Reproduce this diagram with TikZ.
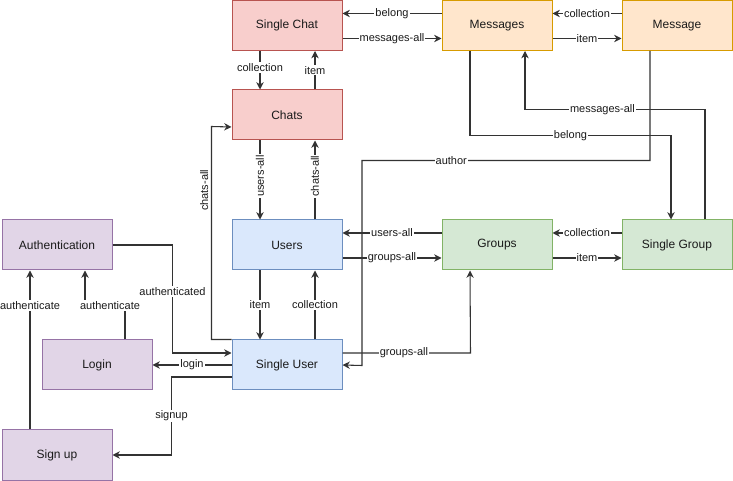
\documentclass[tikz,border=0pt]{standalone}
\usepackage{fontspec}
\setmainfont{Liberation Sans}
\usepackage{xcolor}
\usepackage{tikz}
\usetikzlibrary{positioning, calc, arrows.meta}

\definecolor{chatfill}{HTML}{F8CECC}
\definecolor{chatline}{HTML}{B85450}
\definecolor{msgfill}{HTML}{FFE6CC}
\definecolor{msgline}{HTML}{D79B00}
\definecolor{userfill}{HTML}{DAE8FC}
\definecolor{userline}{HTML}{6C8EBF}
\definecolor{groupfill}{HTML}{D5E8D4}
\definecolor{groupline}{HTML}{82B366}
\definecolor{authfill}{HTML}{E1D5E7}
\definecolor{authline}{HTML}{9673A6}
\definecolor{txt}{HTML}{1A1A1A}

\tikzset{
    box/.style={draw, line width=0.75pt, minimum width=82.5pt, minimum height=37.5pt, inner sep=0pt, font=\fontsize{9}{11}\selectfont, text=txt},
    chatbox/.style={box, fill=chatfill, draw=chatline},
    msgbox/.style={box, fill=msgfill, draw=msgline},
    userbox/.style={box, fill=userfill, draw=userline},
    groupbox/.style={box, fill=groupfill, draw=groupline},
    authbox/.style={box, fill=authfill, draw=authline},
    link/.style={->, draw=black!80, line width=0.8pt},
    lbl/.style={fill=white, inner sep=0.8pt, font=\fontsize{8.25}{10}\selectfont, text=txt},
    sidelbl/.style={inner sep=2pt, font=\fontsize{8.25}{10}\selectfont, text=txt}
}

\begin{document}
\begin{tikzpicture}[x=0.75pt, y=-0.75pt, >={Stealth[length=5.5pt, width=5.5pt]}]
        \useasboundingbox (0,0) rectangle (733,481);

        \node[chatbox] (schat) at (287,25.5) {Single Chat};
        \node[chatbox] (chats) at (287,115) {Chats};
        \node[msgbox] (msgs) at (497,25.5) {Messages};
        \node[msgbox] (msg) at (677,25.5) {Message};
        \node[userbox] (users) at (287,245) {Users};
        \node[userbox] (suser) at (287,365) {Single User};
        \node[groupbox] (groups) at (497,245) {Groups};
        \node[groupbox] (sgroup) at (677,245) {Single Group};
        \node[authbox] (auth) at (57,245) {Authentication};
        \node[authbox] (login) at (97,365) {Login};
        \node[authbox] (signup) at (57,455) {Sign up};

        \draw[link] ($(msgs.west)+(0,-12)$) -- node[lbl] {belong} ($(schat.east)+(0,-12)$);
        \draw[link] ($(schat.east)+(0,13)$) -- node[lbl] {messages-all} ($(msgs.west)+(0,13)$);
        \draw[link] ($(msg.west)+(0,-12)$) -- node[lbl] {collection} ($(msgs.east)+(0,-12)$);
        \draw[link] ($(msgs.east)+(0,13)$) -- node[lbl] {item} ($(msg.west)+(0,13)$);

        \draw[link] ($(schat.south)+(-27,0)$) -- node[lbl, pos=0.43] {collection} ($(chats.north)+(-27,0)$);
        \draw[link] ($(chats.north)+(28,0)$) -- node[lbl] {item} ($(schat.south)+(28,0)$);
        \draw[link] ($(chats.south)+(-27,0)$) -- node[lbl, rotate=90, pos=0.45] {users-all} ($(users.north)+(-27,0)$);
        \draw[link] ($(users.north)+(28,0)$) -- node[lbl, rotate=90, pos=0.55] {chats-all} ($(chats.south)+(28,0)$);
        \draw[link] ($(users.south)+(-27,0)$) -- node[lbl] {item} ($(suser.north)+(-27,0)$);
        \draw[link] ($(suser.north)+(28,0)$) -- node[lbl] {collection} ($(users.south)+(28,0)$);

        \draw[link] ($(groups.west)+(0,-12)$) -- node[lbl] {users-all} ($(users.east)+(0,-12)$);
        \draw[link] ($(users.east)+(0,13)$) -- node[lbl] {groups-all} ($(groups.west)+(0,13)$);
        \draw[link] ($(sgroup.west)+(0,-12)$) -- node[lbl] {collection} ($(groups.east)+(0,-12)$);
        \draw[link] ($(groups.east)+(0,13)$) -- node[lbl] {item} ($(sgroup.west)+(0,13)$);

        \draw[link] (suser.north west) -- ++(-20,0) -- node[sidelbl, rotate=90, anchor=south, pos=0.7] {chats-all} ++(0,-213) -- ($(chats.west)+(0,12)$);
        \draw[link] ($(suser.east)+(0,-12)$) -- node[lbl, pos=0.48] {groups-all} ++(128,0) -- ($(groups.south)+(-27,0)$);
        \draw[link] ($(msgs.south)+(-27,0)$) -- ++(0,84.5) -- node[lbl] {belong} ++(201,0) -- ($(sgroup.north)+(-6,0)$);
        \draw[link] ($(sgroup.north)+(28,0)$) -- ++(0,-110) -- node[lbl, pos=0.57] {messages-all} ++(-180,0) -- ($(msgs.south)+(28,0)$);
        \draw[link] ($(msg.south)+(-27,0)$) -- ++(0,109.5) -- node[lbl, pos=0.69] {author} ++(-288,0) -- ++(0,205) -- (suser.east);

        \draw[link] (auth.east) -- ++(60,0) -- node[lbl, pos=0.43] {authenticated} ++(0,108) -- ($(suser.west)+(0,-12)$);
        \draw[link] (suser.west) -- node[lbl] {login} (login.east);
        \draw[link] ($(suser.west)+(0,12)$) -- ++(-60,0) -- node[lbl] {signup} ++(0,78) -- (signup.east);
        \draw[link] ($(login.north)+(28,0)$) -- ++(0,-34) -- node[lbl, pos=0.375] {authenticate} ++(-40,0) -- ($(auth.south)+(28,0)$);
        \draw[link] ($(signup.north)+(-27,0)$) -- node[lbl, pos=0.78] {authenticate} ($(auth.south)+(-27,0)$);
      \end{tikzpicture}
\end{document}
